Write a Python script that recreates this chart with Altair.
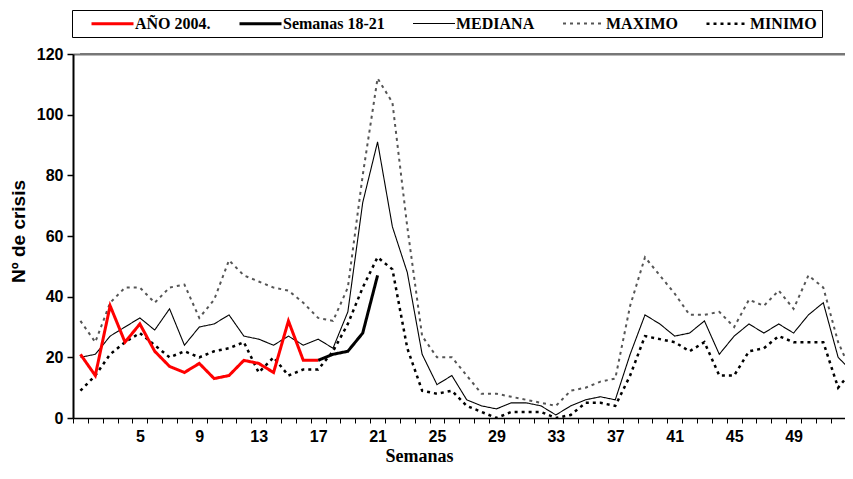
import altair as alt
import pandas as pd

# ---- data ----
semanas = list(range(1, 54))
mediana = [20, 21, 27, 30, 33, 29, 36, 24, 30, 31, 34, 27, 26, 24, 27, 24, 26, 23, 35, 71,
           91, 63, 48, 21, 11, 14, 6, 4, 3, 5, 5, 4, 1, 4, 6, 7, 6, 21, 34, 31,
           27, 28, 32, 21, 27, 31, 28, 31, 28, 34, 38, 20, 15]
maximo = [32, 25, 38, 43, 43, 38, 43, 44, 33, 39, 52, 47, 45, 43, 42, 38, 33, 32, 43, 80,
          112, 104, 63, 27, 20, 20, 14, 8, 8, 7, 6, 5, 4, 9, 10, 12, 13, 37, 53, 47,
          41, 34, 34, 35, 30, 39, 37, 42, 36, 47, 43, 25, 14]
minimo = [9, 14, 21, 25, 28, 24, 20, 22, 20, 22, 23, 25, 15, 20, 14, 16, 16, 22, 31, 43,
          53, 49, 23, 9, 8, 9, 4, 2, 0, 2, 2, 2, 0, 1, 5, 5, 4, 14, 27, 26,
          25, 22, 25, 14, 14, 22, 23, 27, 25, 25, 25, 10, 16]
semanas_2004 = list(range(1, 18))
anio_2004 = [21, 14, 37, 25, 31, 22, 17, 15, 18, 13, 14, 19, 18, 15, 32, 19, 19]
semanas_brote = [17, 18, 19, 20, 21]
brote = [19, 21, 22, 28, 47]

series_order = ["AÑO 2004.", "Semanas 18-21", "MEDIANA", "MAXIMO", "MINIMO"]
series_colors = ["#ff0000", "#000000", "#000000", "#555555", "#000000"]
series_dash = [[1, 0], [1, 0], [1, 0], [3, 4], [3, 4]]
series_width = [3, 3, 1.1, 2, 2.5]

rows = []
for name, xs, ys in [("MAXIMO", semanas, maximo),
                     ("MINIMO", semanas, minimo),
                     ("MEDIANA", semanas, mediana),
                     ("Semanas 18-21", semanas_brote, brote),
                     ("AÑO 2004.", semanas_2004, anio_2004)]:
    for s, v in zip(xs, ys):
        rows.append({"semana": s, "valor": v, "serie": name})
df = pd.DataFrame(rows)

W, H = 772, 364
X_MAX = 0.5 + W / (780 / 52.5)  # same week spacing as the reference

legend = alt.Legend(
    title=None, orient="none", legendX=-1, legendY=-44, direction="horizontal",
    strokeColor="black", padding=5, symbolType="M-3,0H3", symbolSize=196,
    symbolOffset=27, labelOffset=14,
    labelFont="Liberation Serif", labelFontWeight="bold", labelFontSize=16,
    labelColor="black", columnPadding=14, fillColor="white",
)

tick_vals = [i + 0.5 for i in range(0, 52)]
x_scale = alt.Scale(domain=[0.5, X_MAX], nice=False, zero=False)
y_scale = alt.Scale(domain=[0, 120], nice=False)

x_enc = alt.X("semana:Q", scale=x_scale,
              axis=alt.Axis(values=tick_vals,
                            labelExpr="((datum.value + 0.5) % 4 == 1 && datum.value > 4 && datum.value < 50) ? format(datum.value + 0.5, 'd') : ''",
                            labelOffset=7.43, labelOverlap=False, labelBound=False, labelFlush=False,
                            labelFont="Liberation Sans", labelFontWeight="bold", labelFontSize=16,
                            labelColor="black", labelPadding=5,
                            tickSize=5, tickColor="black", tickWidth=1,
                            domainColor="black", domainWidth=1.5, grid=False,
                            title="Semanas", titleFont="Liberation Serif", titleFontWeight="bold",
                            titleFontSize=18, titleColor="black", titleX=346, titleY=43,
                            titleBaseline="alphabetic", titleAlign="center"))
y_enc = alt.Y("valor:Q", scale=y_scale,
              axis=alt.Axis(values=[0, 20, 40, 60, 80, 100, 120],
                            labelFont="Liberation Sans", labelFontWeight="bold", labelFontSize=16,
                            labelColor="black", labelPadding=4,
                            tickSize=6, tickColor="black", tickWidth=1.5,
                            domainColor="black", domainWidth=2, grid=False,
                            title="Nº de crisis", titleFont="Liberation Sans", titleFontWeight="bold",
                            titleFontSize=19, titleColor="black", titleAngle=270,
                            titleX=-55, titleY=177, titleAlign="center", titleBaseline="middle"))

lines = alt.Chart(df).mark_line(clip=True).encode(
    x=x_enc,
    y=y_enc,
    color=alt.Color("serie:N", scale=alt.Scale(domain=series_order, range=series_colors), legend=legend),
    strokeDash=alt.StrokeDash("serie:N", scale=alt.Scale(domain=series_order, range=series_dash), legend=legend),
    strokeWidth=alt.StrokeWidth("serie:N", scale=alt.Scale(type="ordinal", domain=series_order, range=series_width), legend=legend),
)

# top frame line of the plot area, drawn as a label-less top axis
top_border = alt.Chart(df).mark_rule(color="#777777", strokeWidth=2).encode(
    x=alt.X("semana:Q", scale=x_scale,
            axis=alt.Axis(orient="top", labels=False, ticks=False, title=None, grid=False,
                          domainColor="#777777", domainWidth=2)),
    y=alt.Y(datum=120, scale=y_scale),
    x2=alt.X2(datum=X_MAX),
)

chart = alt.layer(lines, top_border).resolve_axis(x="independent").properties(
    width=W, height=H,
    autosize=alt.AutoSizeParams(type="none"),
    padding={"left": 65, "top": 46, "right": 0, "bottom": 47},
).configure_view(stroke=None).configure(background="white")

chart.save("out.html", embed_options={"renderer": "svg", "actions": False})
